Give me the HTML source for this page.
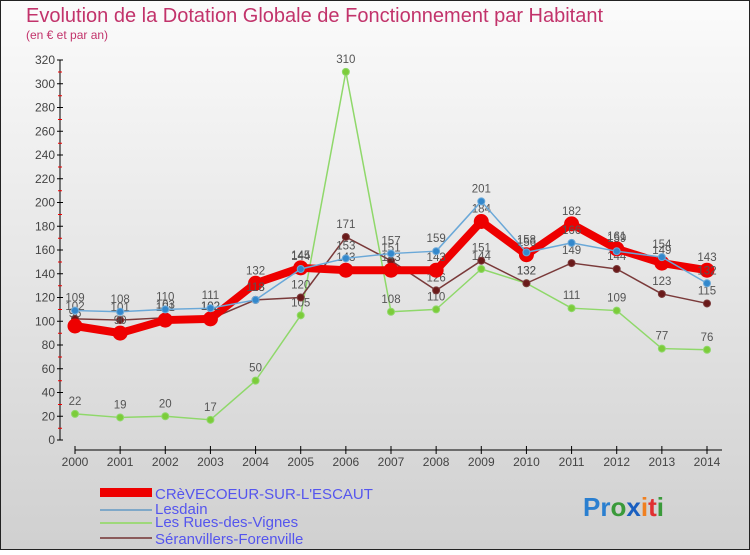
<!DOCTYPE html>
<html><head><meta charset="utf-8"><style>
body{margin:0;width:750px;height:550px;overflow:hidden;font-family:"Liberation Sans",sans-serif}
</style></head><body>
<svg width="750" height="550" xmlns="http://www.w3.org/2000/svg">
<defs><linearGradient id="bg" x1="0" y1="0" x2="0" y2="1"><stop offset="0" stop-color="#fbfbfb"/><stop offset="1" stop-color="#d0d0d0"/></linearGradient></defs>
<rect x="0.5" y="0.5" width="749" height="549" fill="url(#bg)" stroke="#222"/>
<text x="26" y="22" font-size="20" fill="#c2336b">Evolution de la Dotation Globale de Fonctionnement par Habitant</text>
<text x="26" y="39" font-size="12" fill="#c2336b">(en € et par an)</text>
<g id="axes"></g><g id="series"></g>
<g>
<rect x="100" y="488" width="52" height="9" fill="#e00"/>
<text x="155" y="499" font-size="15" fill="#5555ee">CRèVECOEUR-SUR-L'ESCAUT</text>
<line x1="100" y1="510" x2="152" y2="510" stroke="#7fa8c8" stroke-width="2"/>
<text x="155" y="514" font-size="15" fill="#5555ee">Lesdain</text>
<line x1="100" y1="523" x2="152" y2="523" stroke="#9ed87a" stroke-width="2"/>
<text x="155" y="527" font-size="15" fill="#5555ee">Les Rues-des-Vignes</text>
<line x1="100" y1="538" x2="152" y2="538" stroke="#8a5a5a" stroke-width="2"/>
<text x="155" y="544" font-size="15" fill="#5555ee">Séranvillers-Forenville</text>
</g>
<text x="583" y="516" font-size="26" font-weight="bold"><tspan fill="#2a7fd0">Pr</tspan><tspan fill="#3a9a3a">o</tspan><tspan fill="#1a5fc0">x</tspan><tspan fill="#f08020">i</tspan><tspan fill="#e03030">t</tspan><tspan fill="#3a9a3a">i</tspan></text>
</svg>
<script>
const years=[2000,2001,2002,2003,2004,2005,2006,2007,2008,2009,2010,2011,2012,2013,2014];
const crevecoeur=[96,90,101,102,132,145,143,143,143,184,156,182,161,149,143];
const lesdain=[109,108,110,111,118,144,153,157,159,201,158,166,159,154,132];
const rues=[22,19,20,17,50,105,310,108,110,144,132,111,109,77,76];
const seranvillers=[102,101,103,102,118,120,171,151,126,151,132,149,144,123,115];
const yTicks=[0,20,40,60,80,100,120,140,160,180,200,220,240,260,280,300,320];
const NS="http://www.w3.org/2000/svg";
const xS=i=>75+i*(707-75)/(years.length-1);
const yS=v=>440-v*(380/320);
function mk(t,a,p){const e=document.createElementNS(NS,t);for(const k in a)e.setAttribute(k,a[k]);p.appendChild(e);return e;}
const ax=document.getElementById('axes');
mk('line',{x1:60,y1:60,x2:60,y2:440,stroke:'#000'},ax);
yTicks.forEach(v=>{const y=yS(v);
mk('line',{x1:57,y1:y,x2:63,y2:y,stroke:'#000'},ax);
if(v>0)mk('line',{x1:58,y1:y+12,x2:62,y2:y+12,stroke:'#e00'},ax);
const t=mk('text',{x:55,y:y+4,'font-size':12,fill:'#444','text-anchor':'end'},ax);t.textContent=v;

});
mk('line',{x1:75,y1:450,x2:722,y2:450,stroke:'#000'},ax);
years.forEach((yr,i)=>{const x=xS(i);
mk('line',{x1:x,y1:446,x2:x,y2:454,stroke:'#000'},ax);
const t=mk('text',{x:x,y:466,'font-size':12,fill:'#444','text-anchor':'middle'},ax);t.textContent=yr;

});
const sg=document.getElementById('series');
function draw(vals,color,w,r,name,fill){
const g=mk('g',{},sg);


mk('polyline',{points:vals.map((v,i)=>xS(i)+','+yS(v)).join(' '),fill:'none',stroke:color,'stroke-width':w,'stroke-linejoin':'round'},g);
vals.forEach((v,i)=>{const c=mk('circle',{cx:xS(i),cy:yS(v),r:r,fill:fill,stroke:color,'stroke-width':1},g);


const t=mk('text',{x:xS(i),y:yS(v)-9,'font-size':11.5,fill:'#555','text-anchor':'middle'},g);t.textContent=v;

});}
draw(rues,'#8fd86a',1.5,3.5,'series-rues','#7ccc3a');
draw(seranvillers,'#7a3a3a',1.5,3.5,'series-seranvillers','#6a1a1a');
draw(crevecoeur,'#ee0000',8,7,'series-crevecoeur','#ee0000');
draw(lesdain,'#6aa8d8',1.5,3.5,'series-lesdain','#3388cc');
</script>
</body></html>
